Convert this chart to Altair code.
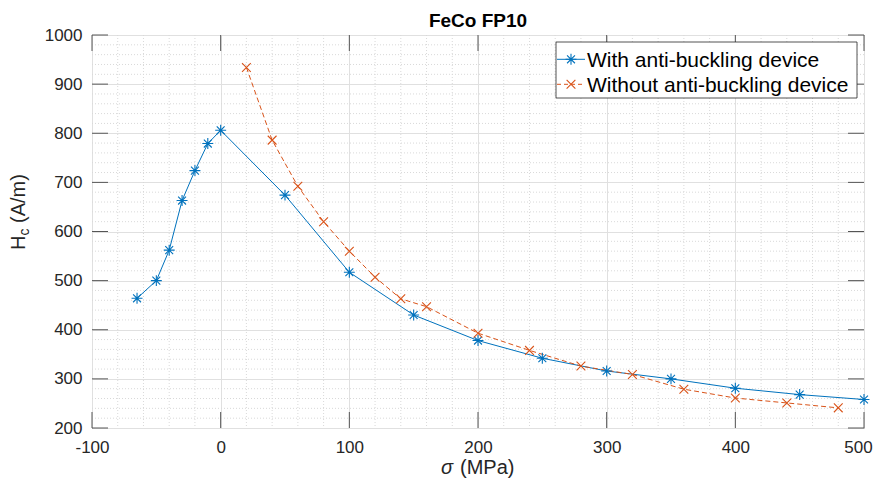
import altair as alt
import pandas as pd

series = ["With anti-buckling device", "Without anti-buckling device"]
colors = ["#0072BD", "#D95319"]

blue_x = [-65, -50, -40, -30, -20, -10, 0, 50, 100, 150, 200, 250, 300, 350, 400, 450, 500]
blue_y = [464, 500, 562, 663, 724, 779, 806, 674, 517, 430, 378, 342, 316, 300, 281, 268, 258]
orange_x = [20, 40, 60, 80, 100, 120, 140, 160, 200, 240, 280, 320, 360, 400, 440, 480]
orange_y = [934, 786, 692, 620, 560, 507, 463, 447, 393, 358, 326, 309, 279, 261, 251, 241]

x_ticks = [-100, 0, 100, 200, 300, 400, 500]
y_ticks = [200, 300, 400, 500, 600, 700, 800, 900, 1000]
x_minor = [v for v in range(-100, 501, 20) if v % 100 != 0]
y_minor = [v for v in range(200, 1001, 20) if v % 100 != 0]

title_text = "FeCo FP10"
x_title = ["σ", "(MPa)"]
y_title = ["H", "c", "(A/m)"]

W, H = 772, 393
FONT = "Liberation Sans"
TICK = 16
TXT = "#262626"

blue = pd.DataFrame({"x": blue_x, "y": blue_y, "s": series[0]})
orange = pd.DataFrame({"x": orange_x, "y": orange_y, "s": series[1]})

xscale = alt.Scale(domain=[-100, 500], nice=False, zero=False)
yscale = alt.Scale(domain=[200, 1000], nice=False, zero=False)
xaxis = alt.Axis(values=x_ticks, title=None, grid=True, domain=False, ticks=False,
                 labelPadding=11, labelExpr="datum.value + ''", labelFlush=False,
                 labelOffset={"condition": {"test": "datum.value == 500", "value": -6}, "value": 0},
                 labelFont=FONT, labelFontSize=17, labelColor=TXT,
                 gridColor="#e0e0e0", gridWidth=1)
yaxis = alt.Axis(values=y_ticks, title=None, grid=True, domain=False, ticks=False,
                 labelPadding=10, labelExpr="datum.value + ''", labelFlush=False,
                 labelFont=FONT, labelFontSize=17, labelColor=TXT,
                 gridColor="#e0e0e0", gridWidth=1)


def X(f="x"):
    return alt.X(f, type="quantitative", scale=xscale, axis=xaxis)


def Y(f="y"):
    return alt.Y(f, type="quantitative", scale=yscale, axis=yaxis)


ASTER = "M0,-1L0,1M-1,0L1,0M-0.72,-0.72L0.72,0.72M-0.72,0.72L0.72,-0.72"
CROSS = "M-0.8,-0.8L0.8,0.8M-0.8,0.8L0.8,-0.8"

one = pd.DataFrame({"a": [0]})

minor_x = alt.Chart(pd.DataFrame({"x": x_minor})).mark_rule(
    color="#d9d9d9", strokeWidth=1, strokeDash=[1, 2]).encode(x=X())
minor_y = alt.Chart(pd.DataFrame({"y": y_minor})).mark_rule(
    color="#d9d9d9", strokeWidth=1, strokeDash=[1, 2]).encode(y=Y())

tick_color = "#555555"
xt = alt.Chart(pd.DataFrame({"x": x_ticks}))
yt = alt.Chart(pd.DataFrame({"y": y_ticks}))
tick_b = xt.mark_rule(color=tick_color).encode(x=X(), y=alt.value(H), y2=alt.value(H - TICK))
tick_t = xt.mark_rule(color=tick_color).encode(x=X(), y=alt.value(0), y2=alt.value(TICK))
tick_l = yt.mark_rule(color=tick_color).encode(y=Y(), x=alt.value(0), x2=alt.value(TICK))
tick_r = yt.mark_rule(color=tick_color).encode(y=Y(), x=alt.value(W), x2=alt.value(W - TICK))

line_b = alt.Chart(blue).mark_line(color=colors[0], strokeWidth=1).encode(x=X(), y=Y())
pts_b = alt.Chart(blue).mark_point(color=colors[0], shape=ASTER, size=120, filled=False,
                                   strokeWidth=1.1, opacity=1).encode(x=X(), y=Y())
line_o = alt.Chart(orange).mark_line(color=colors[1], strokeWidth=1, strokeDash=[5, 3]).encode(x=X(), y=Y())
pts_o = alt.Chart(orange).mark_point(color=colors[1], shape=CROSS, size=120, filled=False,
                                     strokeWidth=1.1, opacity=1).encode(x=X(), y=Y())

oc = alt.Chart(one)

# title
title_mark = oc.mark_text(text=title_text, align="center", baseline="alphabetic", fontSize=19,
                          fontWeight="bold", font=FONT, color="#000000").encode(
    x=alt.value(W / 2), y=alt.value(-8))

# x axis title (italic sigma)
xt_s = oc.mark_text(text=x_title[0], align="left", baseline="alphabetic", fontSize=20,
                    fontStyle="italic", font=FONT, color=TXT).encode(
    x=alt.value(349), y=alt.value(438.5))
xt_u = oc.mark_text(text=x_title[1], align="left", baseline="alphabetic", fontSize=20,
                    font=FONT, color=TXT).encode(x=alt.value(368), y=alt.value(438.5))

# y axis title with subscript
yt_H = oc.mark_text(text=y_title[0], angle=270, align="left", baseline="alphabetic", fontSize=20,
                    font=FONT, color=TXT).encode(x=alt.value(-67), y=alt.value(215))
yt_c = oc.mark_text(text=y_title[1], angle=270, align="left", baseline="alphabetic", fontSize=14,
                    font=FONT, color=TXT).encode(x=alt.value(-63), y=alt.value(200.5))
yt_u = oc.mark_text(text=y_title[2], angle=270, align="left", baseline="alphabetic", fontSize=20,
                    font=FONT, color=TXT).encode(x=alt.value(-67), y=alt.value(188))

# legend
leg_box = oc.mark_rect(fill="white", stroke="#262626", strokeWidth=0.8).encode(
    x=alt.value(464), x2=alt.value(765), y=alt.value(7), y2=alt.value(63))
rows = [24.3, 49.3]
legend_layers = [leg_box]
for i, (name, col, shp) in enumerate(zip(series, colors, [ASTER, CROSS])):
    ry = rows[i]
    rule_kw = dict(color=col, strokeWidth=1)
    if i == 1:
        rule_kw["strokeDash"] = [4, 3]
    legend_layers.append(oc.mark_rule(**rule_kw).encode(
        x=alt.value(465), x2=alt.value(493), y=alt.value(ry)))
    legend_layers.append(oc.mark_point(color=col, shape=shp, size=120, filled=False,
                                       strokeWidth=1.1, opacity=1).encode(
        x=alt.value(479), y=alt.value(ry)))
    legend_layers.append(oc.mark_text(text=name, align="left", baseline="alphabetic",
                                      fontSize=21, font=FONT, color="#000000").encode(
        x=alt.value(495), y=alt.value(ry + 7.4)))

chart = alt.layer(
    minor_x, minor_y, tick_b, tick_t, tick_l, tick_r,
    line_b, line_o, pts_b, pts_o, title_mark, xt_s, xt_u, yt_H, yt_c, yt_u, *legend_layers
).properties(
    width=W, height=H,
    autosize=alt.AutoSizeParams(type="none"),
    padding={"left": 84, "top": 27, "right": 9, "bottom": 50},
    background="white",
).configure_view(
    stroke="#707070", strokeWidth=1
)

chart.save("out.html", embed_options={"renderer": "svg", "actions": False})
